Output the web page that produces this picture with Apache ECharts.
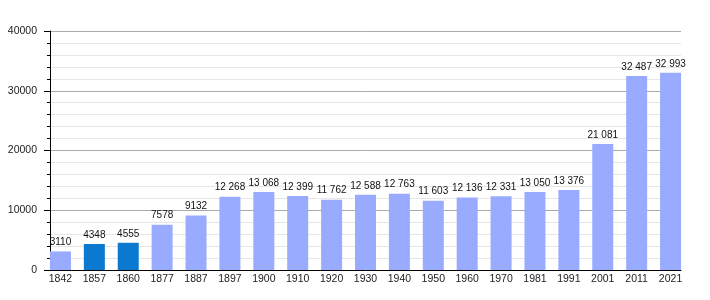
<!DOCTYPE html>
<html>
<head>
<meta charset="utf-8">
<script src="https://cdn.jsdelivr.net/npm/echarts@6/dist/echarts.min.js"></script>
<style>html,body{margin:0;padding:0;background:#fff}#c{width:710px;height:300px}</style>
</head>
<body>
<div id="c"></div>
<script>
const years = ['1842','1857','1860','1877','1887','1897','1900','1910','1920','1930','1940','1950','1960','1970','1981','1991','2001','2011','2021'];
const population = [3110,4348,4555,7578,9132,12268,13068,12399,11762,12588,12763,11603,12136,12331,13050,13376,21081,32487,32993];
const highlightedYears = ['1857','1860'];
const yMin = 0, yMax = 40000, yStep = 10000;

const FONT = 'Liberation Sans, Arial, sans-serif';
function fmt(v){
  if (v < 10000) return String(v);
  return String(v).replace(/\B(?=(\d{3})+(?!\d))/g, ' ');
}
const chart = echarts.init(document.getElementById('c'), null, {renderer:'canvas'});
chart.setOption({
  animation:false,
  backgroundColor:'#fff',
  grid:[
    {left:43.5, right:22.5, top:31, bottom:30},
    {left:50, right:29, top:31, bottom:30}
  ],
  xAxis:[
    {type:'category', gridIndex:0, data:years, boundaryGap:true,
     axisLine:{show:false}, axisTick:{show:false},
     axisLabel:{fontFamily:FONT, fontSize:10.5, color:'#222', margin:4, interval:0}},
    {type:'value', gridIndex:1, min:0, max:1,
     axisLine:{show:true, lineStyle:{color:'#000', width:1}}, axisTick:{show:false},
     axisLabel:{show:false}, splitLine:{show:false}}
  ],
  yAxis:[
    {type:'value', gridIndex:0, min:yMin, max:yMax, interval:yStep, show:false, splitLine:{show:false}},
    {type:'value', gridIndex:1, min:yMin, max:yMax, interval:yStep,
     axisLine:{show:true, lineStyle:{color:'#000', width:1}},
     axisTick:{show:true, length:6, lineStyle:{color:'#000'}},
     minorTick:{show:true, splitNumber:5, length:3, lineStyle:{color:'#000'}},
     axisLabel:{fontFamily:FONT, fontSize:10.5, color:'#222', margin:13, formatter:v=>String(v)},
     splitLine:{show:true, lineStyle:{color:'#aaaaaa', width:1}},
     minorSplitLine:{show:true, lineStyle:{color:'#e6e6e6', width:1}}}
  ],
  series:[{
    type:'bar', xAxisIndex:0, yAxisIndex:0,
    barWidth:21,
    z:3,
    data: population.map((v,i)=>({value:v, itemStyle:{color: highlightedYears.includes(years[i]) ? '#0a79cf' : '#99abfe'}})),
    label:{show:true, position:'top', distance:4, fontFamily:FONT, fontSize:10, color:'#111',
      formatter:p=>fmt(p.value)}
  }]
});
</script>
</body>
</html>
